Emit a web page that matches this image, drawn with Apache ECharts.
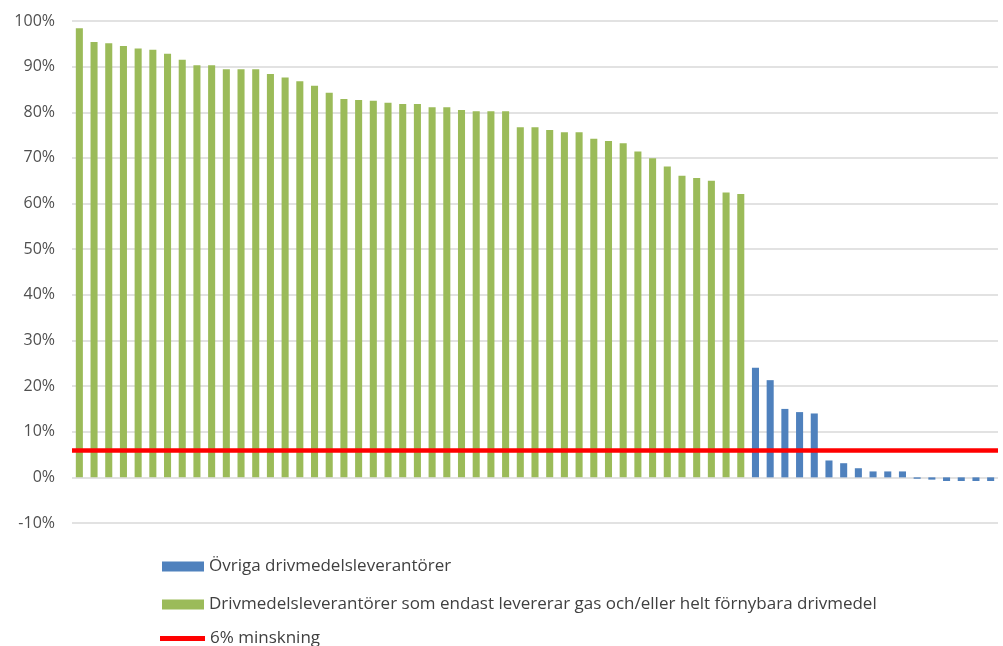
<!DOCTYPE html>
<html>
<head>
<meta charset="utf-8">
<script src="https://cdn.jsdelivr.net/npm/echarts@6/dist/echarts.min.js"></script>
<style>
html,body{margin:0;padding:0;background:#fff;}
#c{width:1003px;height:646px;}
</style>
</head>
<body>
<div id="c"></div>
<script>
// Values in percent
var greenValues = [98.4, 95.4, 95.1, 94.5, 94.0, 93.7, 92.8, 91.5, 90.3, 90.3, 89.4, 89.4, 89.4, 88.4, 87.6, 86.8,
  85.8, 84.3, 82.9, 82.7, 82.5, 82.1, 81.8, 81.8, 81.1, 81.1, 80.5, 80.2, 80.2, 80.2,
  76.7, 76.7, 76.1, 75.6, 75.6, 74.2, 73.7, 73.2, 71.4, 69.9, 68.1, 66.1, 65.6, 65.0, 62.4, 62.1];
var blueValues = [24.0, 21.3, 15.0, 14.3, 14.0, 3.7, 3.1, 2.0, 1.3, 1.3, 1.3, -0.3, -0.5, -0.8, -0.8, -0.8, -0.8];
var targetValue = 6;
var seriesNames = ['Övriga drivmedelsleverantörer',
  'Drivmedelsleverantörer som endast levererar gas och/eller helt förnybara drivmedel',
  '6% minskning'];
var yTicks = { min: -10, max: 100, step: 10 };

var categories = [];
for (var i = 0; i < greenValues.length + blueValues.length; i++) categories.push(String(i + 1));
var greenData = greenValues.concat(blueValues.map(function(){ return null; }));
var blueData = greenValues.map(function(){ return null; }).concat(blueValues);

var FONT = '"Open Sans"';
var chart = echarts.init(document.getElementById('c'), null, { renderer: 'canvas' });
var legendText = { color: '#404040', fontSize: 17, fontFamily: FONT };
chart.setOption({
  animation: false,
  backgroundColor: '#ffffff',
  grid: { left: 72, right: 5, top: 21, bottom: 123, containLabel: false },
  legend: [
    { data: [seriesNames[0]], left: 162, top: 558, icon: 'rect', itemWidth: 42, itemHeight: 10, itemGap: 0,
      selectedMode: false, textStyle: legendText, padding: 0 },
    { data: [seriesNames[1]], left: 162, top: 596, icon: 'rect', itemWidth: 42, itemHeight: 10, itemGap: 0,
      selectedMode: false, textStyle: legendText, padding: 0 },
    { data: [seriesNames[2]], left: 160, top: 630, icon: 'rect', itemWidth: 45, itemHeight: 5, itemGap: 0,
      selectedMode: false, textStyle: legendText, padding: 0 }
  ],
  xAxis: {
    type: 'category', data: categories,
    axisLine: { show: false }, axisTick: { show: false }, axisLabel: { show: false },
    splitLine: { show: false }
  },
  yAxis: {
    type: 'value', min: yTicks.min, max: yTicks.max, interval: yTicks.step,
    axisLine: { show: false }, axisTick: { show: false },
    axisLabel: { formatter: '{value}%', color: '#505050', fontSize: 16, fontFamily: FONT, margin: 17 },
    splitLine: { lineStyle: { color: '#d9d9d9', width: 1.5 } }
  },
  series: [
    { name: seriesNames[0], type: 'bar', data: blueData, barWidth: '48%', barGap: '-100%',
      itemStyle: { color: '#4f81bd' }, z: 2 },
    { name: seriesNames[1], type: 'bar', data: greenData, barWidth: '48%', barGap: '-100%',
      itemStyle: { color: '#9bbb59' }, z: 2 },
    { name: seriesNames[2], type: 'line', data: [], color: '#ff0000', itemStyle: { color: '#ff0000' },
      markLine: { silent: true, symbol: 'none', label: { show: false },
        lineStyle: { color: '#ff0000', width: 4.5, type: 'solid' },
        data: [{ yAxis: targetValue }] }, z: 5 }
  ]
});
</script>
</body>
</html>
